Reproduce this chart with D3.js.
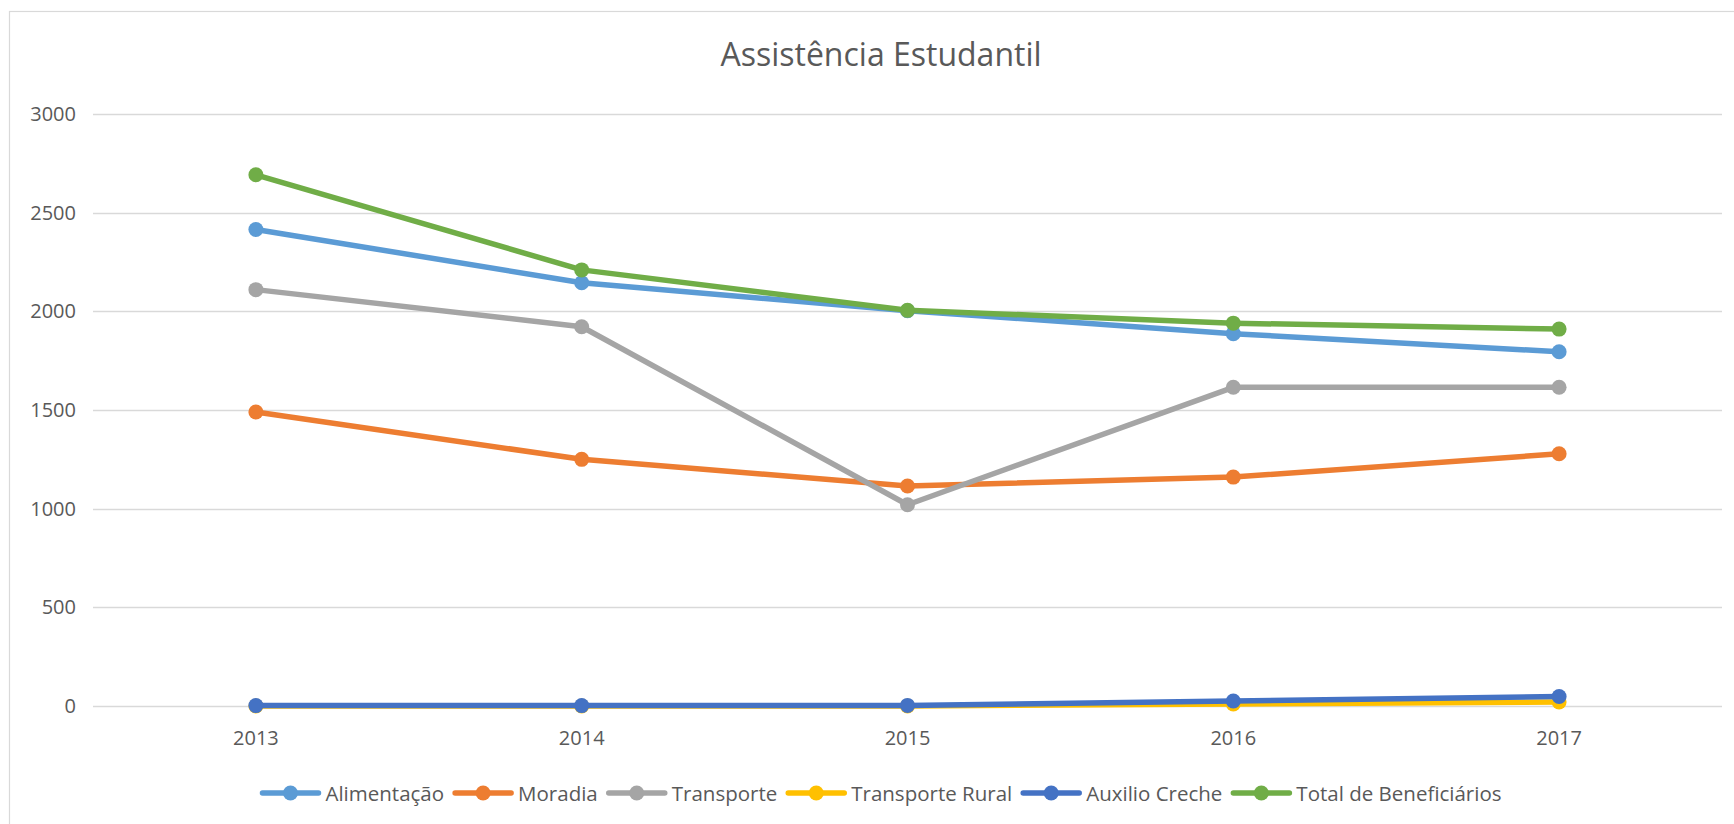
<!DOCTYPE html>
<html><head><meta charset="utf-8">
<script src="https://cdn.jsdelivr.net/npm/d3@7"></script>
<style>
html,body{margin:0;padding:0;background:#fff;overflow:hidden;}
text{font-family:"Open Sans",sans-serif;fill:#595959;}
</style></head>
<body>
<svg id="chart" width="1734" height="824"></svg>
<script>
const categories = ["2013","2014","2015","2016","2017"];
const seriesNames = ["Alimentação","Moradia","Transporte","Transporte Rural","Auxilio Creche","Total de Beneficiários"];
const alimentacao = [2415, 2145, 2003, 1887, 1795];
const moradia = [1490, 1250, 1115, 1160, 1278];
const transporte = [2110, 1922, 1020, 1615, 1615];
const transporteRural = [0, 0, 0, 10, 20];
const auxilioCreche = [2, 2, 3, 25, 48];
const totalBeneficiarios = [2692, 2210, 2005, 1940, 1910];
const yTicks = [0, 500, 1000, 1500, 2000, 2500, 3000];
const colors = ["#5B9BD5","#ED7D31","#A5A5A5","#FFC000","#4472C4","#70AD47"];
const seriesValues = [alimentacao, moradia, transporte, transporteRural, auxilioCreche, totalBeneficiarios];

(function(){
const svg = d3.select("#chart");
const W = 1734, H = 824;
svg.append("rect").attr("x",9.5).attr("y",11.5).attr("width",W+20).attr("height",H+20)
  .attr("fill","#fff").attr("stroke","#D9D9D9").attr("stroke-width",1.2);

const pLeft = 93, pRight = 1722, pTop = 114, pBottom = 706;
const x = d3.scaleBand().domain(categories).range([pLeft, pRight]);
const y = d3.scaleLinear().domain([0, 3000]).range([pBottom, pTop]);

svg.append("text").attr("x", 881).attr("y", 66).attr("text-anchor","middle")
  .style("font-size","32px").text("Assistência Estudantil");

svg.append("g").selectAll("line").data(yTicks).join("line")
  .attr("x1", pLeft).attr("x2", pRight)
  .attr("y1", d => Math.round(y(d))+0.5).attr("y2", d => Math.round(y(d))+0.5)
  .attr("stroke","#D9D9D9").attr("stroke-width",1.3);

const yAxis = d3.axisLeft(y).tickValues(yTicks).tickFormat(d3.format("d")).tickSize(0).tickPadding(0);
const gy = svg.append("g").attr("transform",`translate(76,0)`).call(yAxis);
gy.select(".domain").remove();
gy.selectAll("text").style("font-size","20px").attr("fill","#595959").style("font-family","'Open Sans', sans-serif");

const xAxis = d3.axisBottom(x).tickSize(0).tickPadding(0);
const gx = svg.append("g").attr("transform",`translate(0,${pBottom+25})`).call(xAxis);
gx.select(".domain").remove();
gx.selectAll("text").style("font-size","20px").attr("fill","#595959").style("font-family","'Open Sans', sans-serif");

const cx = c => x(c) + x.bandwidth()/2;
const line = d3.line().x((d,i) => cx(categories[i])).y(d => y(d));

seriesValues.forEach((vals, si) => {
  const g = svg.append("g");
  g.append("path").datum(vals).attr("d", line).attr("fill","none")
    .attr("stroke", colors[si]).attr("stroke-width", 5.5).attr("stroke-linejoin","round").attr("stroke-linecap","round");
  g.selectAll("circle").data(vals).join("circle")
    .attr("cx",(d,i)=>cx(categories[i])).attr("cy", d=>y(d)).attr("r",7.5).attr("fill",colors[si]);
});

const lg = svg.append("g");
const symW = 58, gapSym = 7, gapItem = 9, fs = 20.5;
let xx = 0;
seriesNames.forEach((n, i) => {
  const it = lg.append("g");
  it.append("line").attr("x1",2).attr("x2",symW).attr("y1",0).attr("y2",0)
    .attr("stroke",colors[i]).attr("stroke-width",5.5).attr("stroke-linecap","round");
  it.append("circle").attr("cx",symW/2+1).attr("cy",0).attr("r",7.5).attr("fill",colors[i]);
  const t = it.append("text").attr("x",symW+gapSym).attr("y",8).style("font-size",fs+"px").text(n);
  const tw = t.node().getComputedTextLength();
  it.attr("transform",`translate(${xx},0)`);
  xx += symW + gapSym + tw + gapItem;
});
const totalW = xx - gapItem;
lg.attr("transform",`translate(${881 - totalW/2},793)`);
})();
</script>
</body></html>
